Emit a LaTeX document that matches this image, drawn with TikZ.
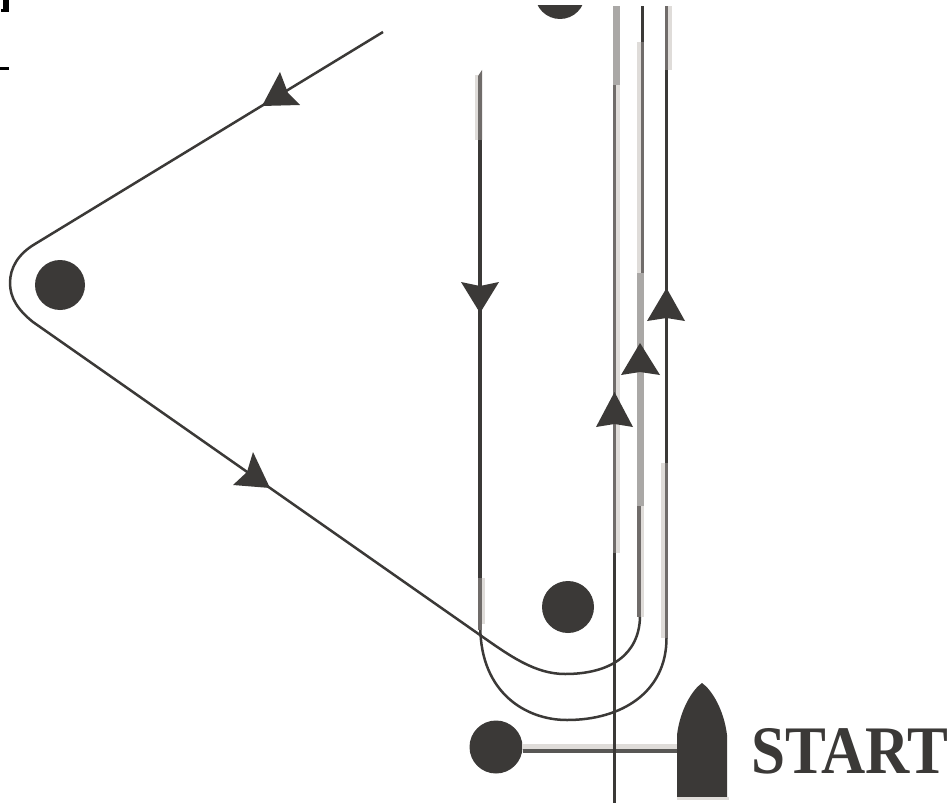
\documentclass[tikz,border=0pt]{standalone}
\usepackage{fontspec}
\setmainfont{Liberation Serif}
\definecolor{ink}{HTML}{3B3937}
\definecolor{midg}{HTML}{706C6A}
\definecolor{lightg}{HTML}{DFDCD9}
\definecolor{wideg}{HTML}{AAA8A6}
\tikzset{
  course/.style={draw=ink,line width=2.5pt,line join=round},
  buoy/.style={circle,fill=ink,draw=none,minimum size=50pt,inner sep=0pt,outer sep=0pt},
  headmark/.style={fill=ink,draw=none},
}
\newcommand{\band}[5]{\fill[#1] (#2,#3) rectangle (#4,#5);}
\begin{document}
\begin{tikzpicture}[x=1pt,y=-1pt]
\useasboundingbox (0,0) rectangle (952,805);
\fill[white] (0,0) rectangle (952,805);
% corner fragments
\fill[black] (3,0) rectangle (9,12);
\fill[black] (1,9) rectangle (9,12);
\fill[black] (0,67.5) rectangle (9,70);
% buoys
\begin{scope}
\clip (500,6) rectangle (620,40);
\node[buoy] (top) at (560,-6) {};
\end{scope}
\node[buoy] (left) at (60,285) {};
\node[buoy,minimum size=52pt] (mark) at (568,607) {};
\node[buoy,minimum size=53pt] (pin) at (496,747) {};
% named course points
\coordinate (bIn) at (383,32);
\coordinate (bA) at (35,244);
\coordinate (bB) at (10,283);
\coordinate (bC) at (33,322);
\coordinate (bD) at (480,635);
\coordinate (bE) at (565,674);
\coordinate (bF) at (640,617);
\coordinate (oA) at (480.3,628);
\coordinate (oB) at (567,720);
\coordinate (oC) at (666.5,638);
% diagonal leg with rounding and inner turn
\draw[course] (bIn) -- (bA) .. controls (18,254) and (10,268) .. (bB)
  .. controls (10,298) and (18,310) .. (bC) -- (bD)
  .. controls (510,656) and (535,674) .. (bE)
  .. controls (610,674) and (639,655) .. (bF);
% outer turn
\draw[course] (oA) .. controls (481,692) and (525,720) .. (oB)
  .. controls (622,720) and (666.5,692) .. (oC);
% left vertical x=480
\band{lightg}{475}{75}{478}{140}
\fill[midg] (478,76) -- (482,70) -- (482,140) -- (478,140) -- cycle;
\band{ink}{478}{140}{482}{578}
\band{lightg}{482}{578}{485}{624}
\band{midg}{478}{578}{482}{630}
% x=614
\band{wideg}{613}{6}{620}{85}
\band{midg}{613}{85}{616}{553}
\band{lightg}{616}{85}{620}{553}
\band{ink}{613}{553}{616}{803}
% x=640
\band{ink}{641}{6}{644}{42}
\band{lightg}{637}{42}{641}{273}
\band{midg}{641}{42}{644}{273}
\band{wideg}{637}{273}{644}{506}
\band{midg}{637}{506}{641}{617}
\band{lightg}{641}{506}{644}{617}
% x=666
\band{midg}{665}{6}{668}{70}
\band{lightg}{668}{6}{672}{70}
\band{ink}{665}{70}{668}{463}
\band{lightg}{661}{463}{665}{638}
\band{midg}{665}{463}{668}{638}
% boat and start line
\node[inner sep=0pt,outer sep=0pt] (boat) at (702,740) {};
\band{lightg}{522}{744}{677}{749}
\draw[draw=ink!85!white,line width=3.8pt] (pin.east |- 0,751) -- (677,751);
\fill[ink] (677,797) -- (677,735) .. controls (680,710) and (692,690) .. (702,683)
  .. controls (712,690) and (724,710) .. (727,735) -- (727,797) -- cycle;
\fill[lightg] (677,797) rectangle (729,800);
\draw[draw=ink,line width=2.6pt] (614.5,553) -- (614.5,803);
% arrowheads
\fill[headmark] (480,313) -- (461,282) -- (480,286) -- (499,282) -- cycle;
\fill[headmark] (640,343) -- (621,375) -- (640,372) -- (660,375) -- cycle;
\fill[headmark] (666.5,288) -- (647,321) -- (666.5,318) -- (685,321) -- cycle;
\fill[headmark] (614.5,392) -- (596,427) -- (614.5,424) -- (633,427) -- cycle;
\fill[headmark] (262,106) -- (280,72) -- (288,93) -- (300,105) -- cycle;
\fill[headmark] (270,488) -- (253,452) -- (247,472) -- (233,485) -- cycle;
% label
\node[anchor=base west,inner sep=0pt,text=ink,xscale=0.9,font=\bfseries\fontsize{68}{68}\selectfont] (startlabel) at (751,773) {START};
\end{tikzpicture}
\end{document}
